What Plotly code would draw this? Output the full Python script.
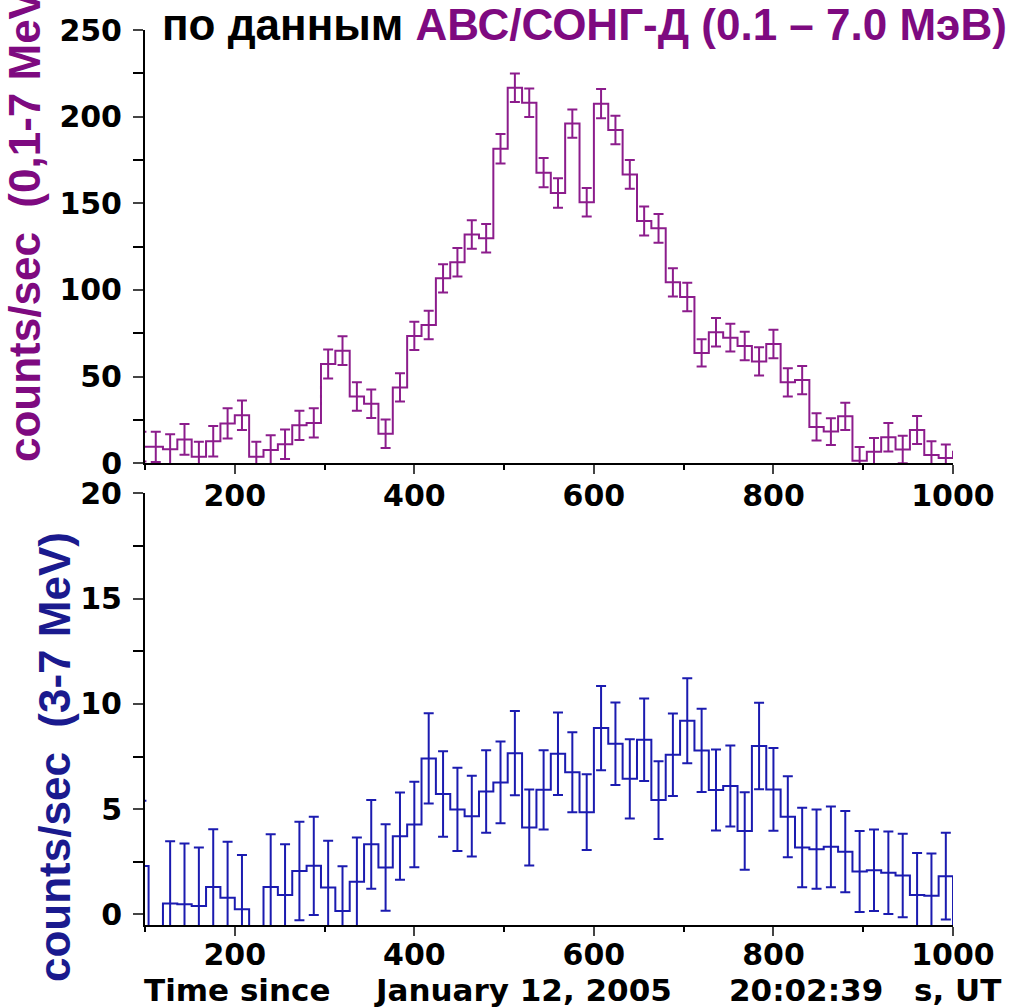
import plotly.graph_objects as go

# ---- data (16 s bins, bin centres in seconds since 20:02:39 UT) ----
bin_centres = list(range(96, 1009, 16))  # 96 ... 1008 (first/last only partly visible)

rate_total = [9.6, 9.5, 8.1, 13.8, 3.8, 12.7, 23.0, 27.7, 3.8, 7.7,
              11.0, 21.9, 23.3, 57.3, 65.0, 38.5, 34.4, 17.0, 43.8, 73.5,
              79.8, 106.7, 116.0, 132.0, 129.8, 181.5, 216.7, 208.0, 167.7, 156.0,
              196.0, 150.6, 207.5, 192.3, 166.7, 139.8, 135.6, 104.4, 96.0, 63.7,
              75.6, 72.5, 67.7, 58.8, 68.8, 46.7, 48.0, 21.0, 18.3, 27.1,
              1.5, 6.7, 15.0, 8.0, 19.2, 4.8, 3.0, 6.7]
err_total = [8.6, 8.7, 8.6, 8.9, 8.7, 8.8, 8.7, 8.5, 8.6, 8.5,
             8.5, 8.4, 8.4, 8.4, 8.3, 8.2, 8.2, 8.2, 8.2, 8.2,
             8.2, 8.2, 8.2, 8.2, 8.2, 8.5, 8.2, 8.2, 8.4, 8.5,
             8.2, 8.2, 8.4, 8.2, 8.3, 8.4, 8.3, 8.2, 8.2, 7.9,
             8.2, 8.0, 8.2, 8.2, 8.2, 8.2, 8.1, 7.9, 7.7, 7.9,
             7.9, 7.9, 8.2, 7.9, 8.1, 7.9, 7.9, 8.3]

rate_hard = [2.3, -1.0, 0.52, 0.48, 0.40, 1.31, 0.79, 0.25, -1.0, 1.31,
             0.92, 2.06, 2.31, 1.28, 0.17, 1.55, 3.33, 2.23, 3.72, 4.27,
             7.41, 5.72, 4.99, 4.67, 5.84, 6.27, 7.66, 4.13, 5.92, 7.63,
             6.75, 4.86, 8.85, 8.11, 6.44, 8.30, 5.43, 7.58, 9.20, 7.79,
             5.91, 6.10, 3.96, 8.00, 5.94, 4.64, 3.18, 3.10, 3.21, 2.98,
             2.04, 2.10, 1.98, 1.85, 0.92, 0.89, 1.82, -1.0]
err_hard = [3.1, 0.0, 2.96, 2.89, 2.78, 2.74, 2.66, 2.57, 0.0, 2.50,
            2.41, 2.34, 2.33, 2.22, 2.12, 2.11, 2.11, 2.05, 2.07, 2.03,
            2.14, 2.03, 1.98, 1.92, 1.96, 1.94, 2.00, 1.81, 1.88, 1.96,
            1.90, 1.80, 2.00, 1.96, 1.88, 1.96, 1.85, 1.96, 2.02, 1.98,
            1.92, 1.92, 1.84, 2.05, 1.97, 1.92, 1.89, 1.88, 1.92, 1.93,
            1.92, 1.94, 1.96, 1.98, 2.00, 2.00, 2.06, 0.0]

x_ticks = [200, 400, 600, 800, 1000]

PURPLE_LINE = "#8C1C8C"
PURPLE_TEXT = "#7E0A80"
BLUE_LINE = "#1B1BB0"
BLUE_TEXT = "#1A1A8E"

fig = go.Figure()
fig.add_trace(go.Scatter(
    x=bin_centres, y=rate_total, mode="lines", line=dict(shape="hvh", color=PURPLE_LINE, width=2),
    error_y=dict(type="data", array=err_total, visible=True, color=PURPLE_LINE, thickness=2, width=5),
    xaxis="x", yaxis="y", showlegend=False))
fig.add_trace(go.Scatter(
    x=bin_centres, y=rate_hard, mode="lines", line=dict(shape="hvh", color=BLUE_LINE, width=2),
    error_y=dict(type="data", array=err_hard, visible=True, color=BLUE_LINE, thickness=2, width=5),
    xaxis="x2", yaxis="y2", showlegend=False))

tickfont = dict(family="DejaVu Sans", size=30, color="black", weight="bold")
common_x = dict(range=[100, 1000], tickmode="array", tickvals=x_ticks, ticks="outside", ticklen=9,
                tickwidth=2, showline=True, linewidth=2, linecolor="black", showgrid=False,
                zeroline=False, tickfont=tickfont,
                minor=dict(tickvals=[100, 300, 500, 700, 900], ticks="outside", ticklen=5,
                           tickwidth=2, tickcolor="black"))
common_y = dict(ticks="outside", ticklen=10, tickwidth=2, showline=True, linewidth=2,
                linecolor="black", showgrid=False, zeroline=False, tickfont=tickfont,
                ticklabelstandoff=5)

W, H = 1012, 1008
L, R, T, B = 145, 59, 30, 83
PW, PH = W - L - R, H - T - B


def px_x(px):
    return (px - L) / PW


def px_y(py):
    return (H - B - py) / PH


fig.update_layout(
    width=W, height=H, paper_bgcolor="white", plot_bgcolor="white",
    margin=dict(l=L, r=R, t=T, b=B),
    xaxis=dict(anchor="y", ticklabelstandoff=-4, **common_x),
    yaxis=dict(domain=[px_y(463.3), 1.0], range=[0, 250], tickvals=[0, 50, 100, 150, 200, 250],
               minor=dict(tickvals=[25, 75, 125, 175, 225], ticks="outside", ticklen=10,
                          tickwidth=2, tickcolor="black"), **common_y),
    xaxis2=dict(anchor="y2", ticklabelstandoff=-7, **common_x),
    yaxis2=dict(domain=[0.0, px_y(493.3)], range=[-0.5, 20], tickvals=[0, 5, 10, 15, 20],
                minor=dict(tickvals=[2.5, 7.5, 12.5, 17.5], ticks="outside", ticklen=10,
                           tickwidth=2, tickcolor="black"), **common_y),
)

annotations = [
    dict(text="по данным <span style='color:%s'>АВС/СОНГ-Д (0.1 – 7.0 МэВ)</span>" % PURPLE_TEXT,
         x=px_x(584), y=px_y(25), font=dict(family="Liberation Sans", size=44,
                                             color="black", weight="bold")),
    dict(text="counts/sec\u00a0\u00a0(0,1-7 MeV", x=px_x(24), y=px_y(226), textangle=-90,
         font=dict(family="Liberation Sans", size=44, color=PURPLE_TEXT, weight="bold")),
    dict(text="counts/sec\u00a0\u00a0(3-7 MeV)", x=px_x(54), y=px_y(757), textangle=-90,
         font=dict(family="Liberation Sans", size=44, color=BLUE_TEXT, weight="bold")),
]
for txt, cx in [("Time since", 237), ("January 12, 2005", 523), ("20:02:39", 806), ("s, UT", 957)]:
    annotations.append(dict(text=txt, x=px_x(cx), y=px_y(990),
                            font=dict(family="DejaVu Sans", size=31, color="black", weight="bold")))
for a in annotations:
    a.update(xref="paper", yref="paper", xanchor="center", yanchor="middle", showarrow=False)
fig.update_layout(annotations=annotations)

fig.write_html("out.html")
